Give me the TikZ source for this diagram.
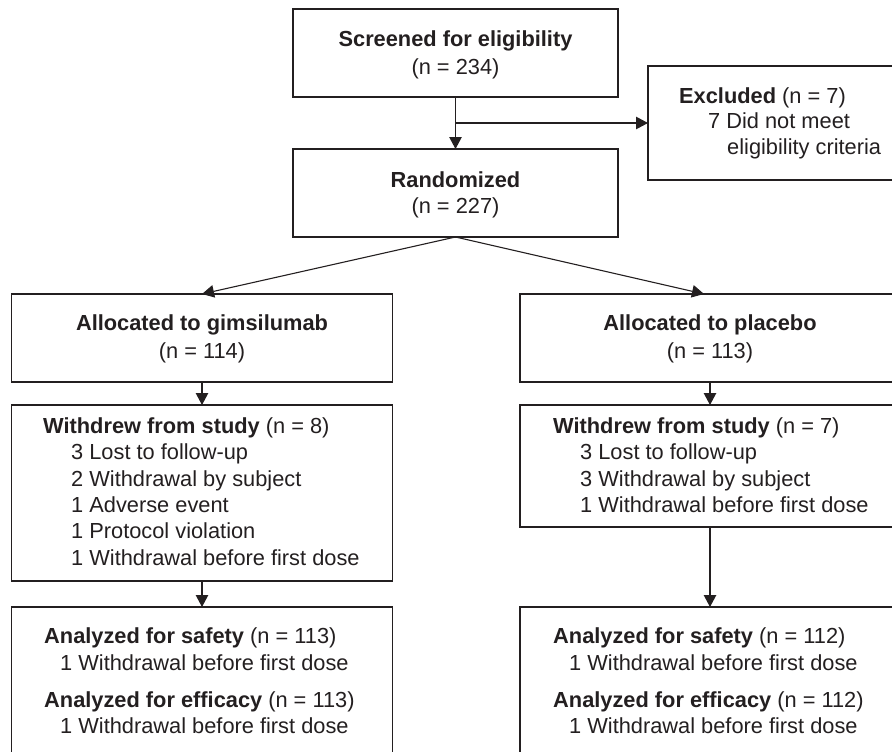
\documentclass[tikz,border=0pt]{standalone}
\usepackage{fontspec}
\setmainfont{Liberation Sans}
\usetikzlibrary{arrows.meta}
\definecolor{ink}{RGB}{35,31,32}
\begin{document}
\begin{tikzpicture}[x=1pt,y=-1pt,
  box/.style={draw=ink, line width=1.2pt, rectangle, inner sep=0pt, outer sep=0pt},
  txt/.style={anchor=base west, inner sep=0pt, text=ink, font=\fontsize{21.8}{26}\selectfont},
  ctxt/.style={anchor=base, inner sep=0pt, text=ink, font=\fontsize{21.8}{26}\selectfont},
  arr/.style={draw=ink, line width=1.1pt, -{Triangle[length=12pt,width=12.5pt]}}]
\useasboundingbox (0,0) rectangle (892,752);
% boxes
\node[box, minimum width=325pt, minimum height=88pt] (screen) at (455.5,53) {};
\node[box, minimum width=252pt, minimum height=114pt] (excl) at (774,123) {};
\node[box, minimum width=325pt, minimum height=88pt] (rand) at (455.5,193) {};
\node[box, minimum width=381pt, minimum height=88pt] (allocL) at (202,338) {};
\node[box, minimum width=380pt, minimum height=88pt] (allocR) at (710,338) {};
\node[box, minimum width=381pt, minimum height=176pt] (wdL) at (202,493) {};
\node[box, minimum width=380pt, minimum height=122pt] (wdR) at (710,466) {};
\node[box, minimum width=381pt, minimum height=153pt] (anL) at (202,683.5) {};
\node[box, minimum width=380pt, minimum height=153pt] (anR) at (710,683.5) {};
% connectors
\coordinate (br) at (screen.south |- 0,123);
\draw[arr] (screen.south) -- (rand.north);
\draw[arr] (br) -- (excl.west);
\draw[arr] (rand.south) -- (allocL.north);
\draw[arr] (rand.south) -- ([xshift=-6pt]allocR.north);
\draw[arr] (allocL.south) -- (wdL.north);
\draw[arr] (wdL.south) -- (anL.north);
\draw[arr] (allocR.south) -- (wdR.north);
\draw[arr] (wdR.south) -- (anR.north);
% texts
\node[ctxt] (s1) at (455.5,47) {\textbf{Screened for eligibility}};
\node[ctxt] (s2) at (455.5,75) {(n = 234)};
\node[ctxt] (r1) at (455.5,187) {\textbf{Randomized}};
\node[ctxt] (r2) at (455.5,213) {(n = 227)};
\node[txt] (e1) at (679,103) {\textbf{Excluded} (n = 7)};
\node[txt] (e2) at (708,128.5) {7 Did not meet};
\node[txt] (e3) at (727,154) {eligibility criteria};
\node[ctxt] (aL1) at (202,330) {\textbf{Allocated to gimsilumab}};
\node[ctxt] (aL2) at (202,358) {(n = 114)};
\node[ctxt] (aR1) at (710,330) {\textbf{Allocated to placebo}};
\node[ctxt] (aR2) at (710,358) {(n = 113)};
\node[txt] (wL1) at (43,433) {\textbf{Withdrew from study} (n = 8)};
\node[txt] (wL2) at (71,459.5) {3 Lost to follow-up};
\node[txt] (wL3) at (71,486) {2 Withdrawal by subject};
\node[txt] (wL4) at (71,512) {1 Adverse event};
\node[txt] (wL5) at (71,538.5) {1 Protocol violation};
\node[txt] (wL6) at (71,565) {1 Withdrawal before first dose};
\node[txt] (wR1) at (553,433) {\textbf{Withdrew from study} (n = 7)};
\node[txt] (wR2) at (580,459.5) {3 Lost to follow-up};
\node[txt] (wR3) at (580,486) {3 Withdrawal by subject};
\node[txt] (wR4) at (580,512) {1 Withdrawal before first dose};
\node[txt] (nL1) at (44,643) {\textbf{Analyzed for safety} (n = 113)};
\node[txt] (nL2) at (60,670) {1 Withdrawal before first dose};
\node[txt] (nL3) at (44,707) {\textbf{Analyzed for efficacy} (n = 113)};
\node[txt] (nL4) at (60,733) {1 Withdrawal before first dose};
\node[txt] (nR1) at (553,643) {\textbf{Analyzed for safety} (n = 112)};
\node[txt] (nR2) at (569,670) {1 Withdrawal before first dose};
\node[txt] (nR3) at (553,707) {\textbf{Analyzed for efficacy} (n = 112)};
\node[txt] (nR4) at (569,733) {1 Withdrawal before first dose};
\end{tikzpicture}
\end{document}
